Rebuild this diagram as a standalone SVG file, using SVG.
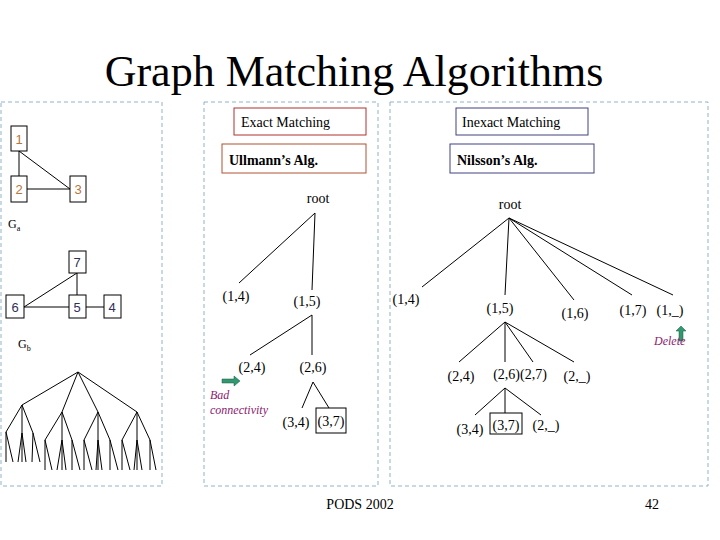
<svg xmlns="http://www.w3.org/2000/svg" width="720" height="540" viewBox="0 0 720 540">
<style>
.t{font-family:"Liberation Serif",serif;font-size:14px;fill:#000}
.s{font-family:"Liberation Serif",serif;font-size:14px;fill:#000;text-anchor:middle}
.pan{fill:none;stroke:#8fb3c8;stroke-dasharray:4 3}
.e{stroke:#000;stroke-width:1;fill:none}
.nb{fill:#fff;stroke:#000}
.na{font-family:"Liberation Sans",sans-serif;font-size:13px;fill:#b8763a;text-anchor:middle}
.nn{font-family:"Liberation Sans",sans-serif;font-size:13px;fill:#30305a;text-anchor:middle}
.it{font-family:"Liberation Serif",serif;font-size:12px;font-style:italic;fill:#8b2070}
</style>
<rect width="720" height="540" fill="#fff"/>
<text x="354" y="86" font-family="Liberation Serif,serif" font-size="44" text-anchor="middle">Graph Matching Algorithms</text>
<rect class="pan" x="1" y="102" width="161" height="384"/>
<rect class="pan" x="204" y="102" width="174" height="384"/>
<rect class="pan" x="390" y="102" width="318" height="384"/>
<g id="connectors">
<line class="e" x1="19" y1="151" x2="19" y2="176"/><line class="e" x1="19" y1="151" x2="70" y2="189"/><line class="e" x1="27" y1="189" x2="70" y2="189"/>
<line class="e" x1="77" y1="273" x2="77" y2="295"/><line class="e" x1="77" y1="273" x2="24" y2="307"/><line class="e" x1="24" y1="307" x2="69" y2="307"/><line class="e" x1="86" y1="307" x2="104" y2="307"/>
<path class="e" d="M78 372L22 405M78 372L62 412M78 372L98 412M78 372L137 412M22 405L6 432M22 405L22 433M22 405L33 433M62 412L45 440M62 412L62 440M62 412L72 440M98 412L84 440M98 412L98 440M98 412L110 440M137 412L122 440M137 412L137 440M137 412L150 440
M6 432L6 462M6 432L13 462M22 433L18 462M22 433L22 462M22 433L26 462M33 433L32 462M33 433L40 462M45 440L45 470M45 440L52 470M62 440L57 470M62 440L62 470M62 440L66 470M72 440L72 470M72 440L80 470M84 440L84 470M84 440L92 470M98 440L96 470M98 440L98 470M98 440L102 470M110 440L110 470M110 440L118 470M122 440L122 470M122 440L130 470M137 440L134 470M137 440L137 470M137 440L142 470M150 440L150 470M150 440L156 470"/>
<path class="e" d="M315 213L239 283M315 213L312 290M312 315L250 355M312 315L312 355M313 382L302 408M313 382L329 408"/>
<path class="e" d="M509 218L422 287M509 218L505 295M509 218L574 300M509 218L632 295M509 218L673 295M505 322L459 362M505 322L505 362M505 322L533 362M505 322L574 362M505 388L475 415M505 388L505 413M505 388L541 415"/>
</g>
<g id="Ga"><rect class="nb" x="11" y="126" width="16" height="25"/><text class="na" x="19" y="144">1</text>
<rect class="nb" x="11" y="176" width="16" height="26"/><text class="na" x="19" y="194">2</text>
<rect class="nb" x="70" y="176" width="16" height="26"/><text class="na" x="78" y="194">3</text>
<text x="8" y="228" font-family="Liberation Serif,serif" font-size="12">G<tspan font-size="8" dy="3">a</tspan></text></g>
<g id="Gb"><rect class="nb" x="69" y="251" width="17" height="22"/><text class="nn" x="77" y="267">7</text>
<rect class="nb" x="6" y="295" width="18" height="23"/><text class="nn" x="15" y="312">6</text>
<rect class="nb" x="69" y="295" width="17" height="23"/><text class="nn" x="77" y="312">5</text>
<rect class="nb" x="104" y="295" width="17" height="23"/><text class="nn" x="112" y="312">4</text>
<text x="18" y="348" font-family="Liberation Serif,serif" font-size="12">G<tspan font-size="8" dy="3">b</tspan></text></g>
<g id="exact"><rect x="234" y="108" width="132" height="27" fill="#fff" stroke="#b03030"/><text class="t" x="241" y="127">Exact Matching</text>
<rect x="222" y="144" width="144" height="29" fill="#fff" stroke="#b05030"/><text class="t" x="229" y="165" font-weight="bold" font-size="16">Ullmann’s Alg.</text></g>
<g id="inexact"><rect x="456" y="108" width="132" height="27" fill="#fff" stroke="#404080"/><text class="t" x="462" y="127">Inexact Matching</text>
<rect x="450" y="144" width="144" height="29" fill="#fff" stroke="#404080"/><text class="t" x="457" y="165" font-weight="bold" font-size="16">Nilsson’s Alg.</text></g>
<g id="ullmann-tree">
<text class="s" x="318" y="203">root</text><text class="s" x="236" y="301">(1,4)</text><text class="s" x="307" y="306">(1,5)</text>
<text class="s" x="252" y="372">(2,4)</text><text class="s" x="313" y="372">(2,6)</text>
<text class="s" x="296" y="427">(3,4)</text><rect x="316" y="408" width="30" height="25" fill="none" stroke="#000"/><text class="s" x="331" y="426">(3,7)</text>
<path d="M222 379h12v-3l6 5-6 5v-3h-12z" fill="#2e9a70" stroke="#205040" stroke-width="0.5"/>
<text class="it" x="210" y="399">Bad</text><text class="it" x="210" y="414" font-size="11">connectivity</text></g>
<g id="nilsson-tree">
<text class="s" x="510" y="209">root</text><text class="s" x="406" y="304">(1,4)</text><text class="s" x="500" y="313">(1,5)</text>
<text class="s" x="575" y="318">(1,6)</text><text class="s" x="633" y="315">(1,7)</text><text class="s" x="670" y="315">(1,_)</text>
<path d="M679 341v-10h-3l5-5 5 5h-3v10z" fill="#2e9a70" stroke="#205040" stroke-width="0.5"/>
<text class="it" x="654" y="345" font-size="11">Delete</text>
<text class="s" x="461" y="381">(2,4)</text><text class="s" x="520" y="379">(2,6)(2,7)</text><text class="s" x="577" y="381">(2,_)</text>
<text class="s" x="470" y="434">(3,4)</text><rect x="490" y="413" width="32" height="21" fill="none" stroke="#000"/><text class="s" x="506" y="430">(3,7)</text><text class="s" x="546" y="430">(2,_)</text></g>
<text class="s" x="360" y="509">PODS 2002</text>
<text class="s" x="652" y="509">42</text>
</svg>
